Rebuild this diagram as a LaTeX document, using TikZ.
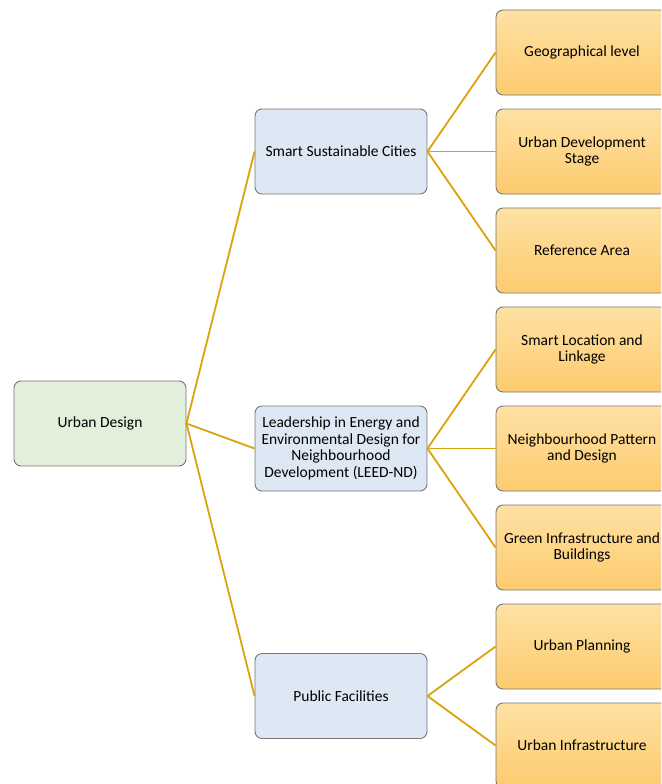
\documentclass[tikz,border=0pt]{standalone}
\usepackage{fontspec}
\setmainfont{Carlito}
\definecolor{rootfill}{HTML}{E2EFDA}
\definecolor{midfill}{HTML}{DEE8F4}
\definecolor{leaftop}{HTML}{FEE1A4}
\definecolor{leafbot}{HTML}{FDCB6E}
\definecolor{boxline}{HTML}{767676}
\definecolor{linkcol}{HTML}{D9A30B}
\tikzset{
  box/.style={draw=boxline, line width=0.9pt, rounded corners=7pt,
    minimum width=172pt, minimum height=85pt, align=center, inner sep=2pt,
    font=\fontsize{15.5}{16.7}\selectfont},
  rootbox/.style={box, fill=rootfill},
  midbox/.style={box, fill=midfill},
  leafbox/.style={box, top color=leaftop, bottom color=leafbot},
  link/.style={draw=linkcol, line width=1.8pt}
}
\begin{document}
\begin{tikzpicture}[x=1pt,y=-1pt]
\useasboundingbox (0,0) rectangle (661,784);
\clip (0,0) rectangle (661,784);

% root and middle level
\node[rootbox] (ud) at (100,423.5) {Urban Design};
\node[midbox] (ssc) at (341,151.5) {Smart Sustainable Cities};
\node[midbox] (leed) at (341,448.5) {Leadership in Energy and\\Environmental Design for\\Neighbourhood\\Development (LEED-ND)};
\node[midbox] (pf) at (341,696) {Public Facilities};

% leaves
\node[leafbox] (geo) at (582,52.5) {Geographical level};
\node[leafbox] (uds) at (582,151.5) {Urban Development\\Stage};
\node[leafbox] (ref) at (582,250.5) {Reference Area};
\node[leafbox] (sll) at (582,349.5) {Smart Location and\\Linkage};
\node[leafbox] (npd) at (582,448.5) {Neighbourhood Pattern\\and Design};
\node[leafbox] (gib) at (582,547.5) {Green Infrastructure and\\Buildings};
\node[leafbox] (up) at (582,646.5) {Urban Planning};
\node[leafbox] (ui) at (582,745.5) {Urban Infrastructure};

% links
\foreach \m in {ssc,leed,pf}
  \draw[link] (ud.east) -- (\m.west);
\foreach \l in {geo,uds,ref}
  \draw[link] (ssc.east) -- (\l.west);
\foreach \l in {sll,npd,gib}
  \draw[link] (leed.east) -- (\l.west);
\foreach \l in {up,ui}
  \draw[link] (pf.east) -- (\l.west);
\end{tikzpicture}
\end{document}
